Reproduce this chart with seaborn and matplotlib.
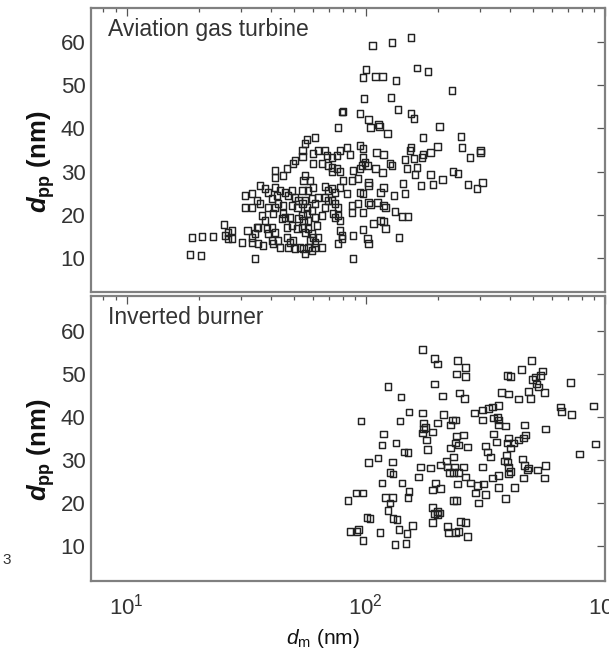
import matplotlib
matplotlib.use("Agg")
import matplotlib.pyplot as plt
import pandas as pd
import seaborn as sns
from matplotlib.ticker import LogLocator, FixedLocator, NullLocator

# Aviation gas turbine: mobility diameter d_m (nm) and primary particle diameter d_pp (nm)
turbine_dm = [
    18.8, 20.7, 18.4, 20.5, 23.0, 25.6, 25.8, 26.6, 26.6, 27.6, 27.6,
    79.4, 76.7, 61.4, 56.9, 55.8, 54.3, 54.3,
    60.2, 63.2, 67.6, 68.9, 72.4, 75.9, 78.1,
    60.2, 65.7, 69.5, 72.4, 75.9, 72.4, 78.1,
    50.7, 49.7, 46.8, 45.0, 41.7, 41.7,
    55.8, 54.8, 58.5, 60.2, 57.4, 54.3,
    67.6, 69.5, 72.4, 74.5, 78.1,
    36.1, 37.9, 39.0, 41.7, 43.8, 45.9, 47.3, 42.5, 40.5,
    31.2, 33.4, 35.1, 36.1, 31.2, 33.4,
    39.0, 41.7, 42.9, 45.0, 40.9, 45.0,
    49.2, 50.7, 52.2, 49.2, 51.7, 54.3, 55.8, 56.9, 59.7, 61.4, 59.7, 56.9, 54.3, 52.2, 54.8, 57.4,
    63.2, 67.6, 69.5, 67.6, 72.4, 74.5, 76.7, 73.1, 76.7, 74.5,
    61.4, 65.7, 62.6,
    36.8, 37.9, 35.4, 38.6, 40.5, 41.7,
    44.6, 45.9, 48.3, 46.8, 49.2, 51.7,
    54.3, 55.8, 57.4, 59.7,
    30.4, 32.1, 33.4, 35.1, 34.4, 33.4, 35.4, 37.2, 39.0, 40.5, 40.9, 42.9, 43.8,
    46.8, 48.3, 49.7, 47.3, 50.7, 53.2, 54.8, 55.8, 57.4, 58.5, 60.2, 61.4, 63.2, 65.7, 59.7, 61.4,
    34.4, 78.1, 76.7, 78.1,
    106.5, 128.5, 154.5, 100.0, 97.5, 109.6, 117.2, 133.6, 163.6, 182.0, 229.0, 98.4, 127.3, 136.2,
    80.4, 94.7, 154.5, 159.0, 102.5, 104.4, 112.8, 113.9, 123.0, 203.0, 173.4, 250.0, 83.5, 94.7,
    97.5, 86.0, 110.6, 118.3, 154.5, 153.0, 199.0, 253.0, 301.0, 301.0, 273.0, 173.4, 186.0, 171.7,
    145.7, 159.0, 97.5, 99.4, 96.5, 101.5, 126.0, 128.5, 109.6, 117.2, 148.5, 163.6, 160.5, 88.5,
    94.7, 186.0, 232.0, 243.0, 209.0, 80.4, 87.7, 92.9, 102.5, 102.5, 142.9, 170.0, 191.0, 268.0,
    292.0, 307.0, 118.3, 83.5, 94.7, 97.5, 115.0, 131.0, 145.7, 87.7, 92.9, 102.5, 104.4, 111.7,
    118.3, 120.6, 87.7, 97.5, 132.3, 141.5, 150.0, 115.0, 118.3, 107.5, 120.6, 97.5, 88.5, 79.6,
    79.6, 101.5, 102.5, 137.5, 88.5,
]
turbine_dpp = [
    14.7, 14.9, 10.7, 10.5, 14.9, 17.7, 15.1, 15.8, 14.4, 16.3, 14.4,
    43.8, 40.2, 37.9, 37.4, 36.5, 34.9, 33.5,
    34.2, 34.9, 34.9, 33.7, 33.3, 33.7, 34.9,
    31.9, 31.9, 31.4, 30.9, 30.7, 30.0, 30.0,
    32.6, 31.9, 30.7, 29.1, 30.2, 28.6,
    29.1, 27.9, 27.9, 26.3, 25.6, 25.6,
    26.5, 25.6, 26.0, 25.1, 26.3,
    26.7, 26.0, 25.1, 26.3, 25.6, 25.1, 24.4, 24.4, 23.7,
    24.4, 24.9, 23.3, 22.6, 21.6, 21.6,
    21.6, 21.6, 22.6, 22.1, 20.2, 20.2,
    25.6, 24.0, 23.3, 22.1, 21.6, 22.6, 23.3, 21.6, 23.7, 22.6, 20.9, 20.2, 19.8, 19.1, 18.6, 18.6,
    24.0, 24.0, 23.3, 21.6, 23.3, 22.6, 21.6, 20.2, 19.8, 19.3,
    19.3, 19.8, 17.4,
    19.8, 18.6, 17.0, 16.7, 17.0, 15.8,
    19.1, 19.3, 19.3, 17.0, 17.4, 16.7,
    17.0, 15.8, 16.7, 15.6,
    13.5, 16.3, 14.7, 17.0, 15.6, 13.5, 13.3, 12.8, 15.6, 14.0, 13.3, 14.0, 12.3,
    14.7, 13.5, 14.0, 12.3, 12.1, 12.3, 12.1, 10.9, 12.3, 14.0, 14.7, 13.5, 14.7, 12.3, 11.6, 12.3,
    9.8, 16.3, 13.3, 18.6,
    59.3, 60.0, 61.2, 53.7, 51.9, 52.1, 52.1, 51.2, 54.0, 53.3, 48.8, 47.0, 47.2, 44.4,
    44.0, 43.5, 43.5, 42.3, 42.1, 40.2, 40.9, 40.5, 38.8, 40.5, 37.9, 38.1, 35.6, 36.0,
    35.3, 34.0, 34.4, 34.0, 35.6, 34.9, 35.8, 35.6, 34.9, 34.4, 33.3, 34.0, 34.4, 33.3,
    32.8, 33.0, 33.3, 32.1, 31.4, 31.4, 31.9, 31.4, 30.7, 29.8, 30.7, 30.9, 29.3, 30.2,
    30.7, 29.3, 30.0, 29.5, 28.1, 27.9, 27.9, 28.4, 27.4, 26.7, 27.2, 26.7, 27.0, 27.0,
    26.0, 27.4, 26.3, 24.9, 25.1, 24.9, 25.1, 24.4, 24.9, 22.1, 22.6, 22.8, 22.3, 22.8,
    22.1, 21.6, 20.5, 20.5, 20.7, 19.5, 19.5, 18.6, 18.4, 17.9, 16.7, 16.5, 15.1, 15.1,
    14.4, 14.4, 13.3, 14.7, 9.8,
]

# Inverted burner
burner_dm = [
    173.0, 193.4, 199.1, 241.2, 260.6, 238.9, 260.6, 124.1, 193.4, 140.6, 208.8, 245.9, 258.1,
    151.8, 172.2, 95.7, 139.2, 173.9, 173.9, 177.3, 189.7, 199.1, 210.8, 225.5, 229.9, 236.6,
    118.3, 172.2, 179.0, 180.7, 117.1, 134.0, 144.7, 150.4, 238.9, 255.6, 225.5, 236.6, 243.6,
    102.4, 112.7, 129.0, 169.0, 186.1, 165.7, 126.5, 130.2,
    204.9, 217.0, 219.1, 232.1, 234.4, 223.4, 232.1, 243.6, 255.6, 260.6,
    142.0, 117.1, 195.3, 189.7, 204.9, 241.2, 91.2, 97.5, 84.4, 120.6, 129.0, 126.5,
    151.8, 150.4, 232.1, 238.9, 124.1, 130.2, 135.3, 101.4, 104.3,
    189.7, 199.1, 202.9, 193.4, 199.1, 189.7, 86.1, 92.1, 93.0, 114.9, 97.5,
    137.9, 148.9, 156.4, 147.5, 132.7, 219.1, 221.2, 236.6, 243.6, 265.7, 248.3, 260.6,
    492.3, 447.1, 547.2, 391.1, 402.0, 497.1, 511.6, 536.8, 516.6, 526.6, 716.7,
    368.7, 394.9, 434.3, 478.2, 487.6, 557.8, 284.3, 307.0, 325.3, 338.1, 358.1,
    307.0, 341.3, 354.7, 358.1, 358.1, 383.6, 650.9, 657.2, 723.6, 894.7, 460.2, 563.2,
    341.3, 351.3, 394.9, 391.1, 413.8, 434.3, 455.8, 464.7, 402.0, 316.0, 322.2, 331.6,
    265.7, 387.3, 379.9, 391.1, 912.1, 781.6, 451.4, 460.2, 478.2, 473.6, 521.6, 563.2,
    394.9, 402.0, 307.0, 338.1, 358.1, 394.9, 455.8, 557.8, 273.5, 292.6, 310.0,
    358.1, 417.8, 287.0, 316.0, 295.4, 383.6,
]
burner_dpp = [
    55.6, 53.5, 52.2, 53.1, 51.5, 49.9, 49.4, 47.1, 47.6, 44.6, 44.8, 45.5, 44.3,
    41.1, 40.9, 39.0, 39.0, 38.6, 37.2, 37.6, 36.5, 38.6, 40.6, 38.1, 39.3, 39.3,
    36.0, 36.3, 34.7, 32.4, 33.5, 34.0, 31.9, 31.7, 35.6, 35.8, 32.8, 34.0, 33.5,
    29.4, 30.5, 29.6, 28.4, 28.2, 26.1, 27.1, 26.8,
    28.9, 29.8, 28.4, 30.7, 28.4, 27.1, 27.1, 27.1, 28.4, 26.1,
    24.7, 24.7, 24.7, 23.1, 23.4, 24.5, 22.4, 22.4, 20.6, 21.3, 21.3, 20.1,
    22.7, 21.3, 20.6, 20.6, 18.3, 16.5, 16.2, 16.7, 16.5,
    19.0, 18.1, 17.8, 17.6, 17.4, 15.5, 13.5, 13.5, 13.9, 13.2, 11.4,
    13.9, 13.0, 14.8, 10.7, 10.5, 14.6, 13.2, 13.2, 13.5, 12.3, 15.8, 15.5,
    53.1, 51.0, 50.6, 49.6, 49.4, 48.7, 49.2, 49.6, 47.6, 46.9, 48.0,
    45.7, 45.3, 44.1, 45.9, 44.3, 45.7, 40.9, 41.6, 42.0, 42.3, 42.7,
    39.3, 39.7, 40.0, 39.3, 38.1, 37.9, 42.3, 41.3, 40.6, 42.5, 38.1, 37.2,
    36.0, 34.2, 35.1, 34.0, 34.0, 34.7, 35.1, 35.8, 32.8, 33.3, 31.9, 30.7,
    33.0, 31.2, 29.8, 29.6, 33.7, 31.4, 30.3, 28.7, 28.2, 27.7, 27.7, 28.7,
    28.4, 27.3, 28.4, 25.9, 26.4, 26.8, 25.9, 25.9, 24.7, 24.1, 24.5,
    23.6, 23.6, 22.4, 22.0, 20.1, 21.1,
]

panel_titles = ["Aviation gas turbine", "Inverted burner"]
y_ticks = [10, 20, 30, 40, 50, 60]

sns.set_theme(style="white")
plt.rcParams["font.family"] = ["Liberation Sans", "DejaVu Sans"]
plt.rcParams["mathtext.fontset"] = "custom"
plt.rcParams["mathtext.rm"] = "Liberation Sans"
plt.rcParams["mathtext.it"] = "Liberation Sans:italic"
plt.rcParams["mathtext.bf"] = "Liberation Sans:bold"
plt.rcParams["mathtext.bfit"] = "Liberation Sans:italic:bold"

fig = plt.figure(figsize=(6.09, 6.61), dpi=100)
left, width = 91 / 609, 514 / 609
ax_top = fig.add_axes([left, 1 - 292 / 661, width, 284 / 661])
ax_bot = fig.add_axes([left, 1 - 581 / 661, width, 285 / 661])

frames = [
    pd.DataFrame({"dm": turbine_dm, "dpp": turbine_dpp}),
    pd.DataFrame({"dm": burner_dm, "dpp": burner_dpp}),
]

text_col = "#333333"
for ax, df, title in zip([ax_top, ax_bot], frames, panel_titles):
    sns.scatterplot(data=df, x="dm", y="dpp", ax=ax, marker="s", s=22,
                    facecolor="none", edgecolor="#222222", linewidth=1.05,
                    legend=False)
    ax.set_xscale("log")
    ax.set_xlim(7.1, 1000)
    ax.set_ylim(2, 68)
    ax.yaxis.set_major_locator(FixedLocator(y_ticks))
    ax.yaxis.set_minor_locator(NullLocator())
    ax.xaxis.set_major_locator(LogLocator(base=10))
    ax.xaxis.set_minor_locator(LogLocator(base=10, subs=range(2, 10)))
    ax.tick_params(which="both", direction="in", top=True, right=True,
                   color="#555555", width=0.9, labelcolor=text_col,
                   labelsize=16)
    ax.tick_params(which="major", length=6)
    ax.tick_params(which="minor", length=3)
    ax.tick_params(axis="y", pad=4)
    ax.tick_params(axis="x", pad=9)
    for sp in ax.spines.values():
        sp.set_color("#808080")
        sp.set_linewidth(1.6)
    ax.text(0.033, 0.90, title, transform=ax.transAxes, ha="left",
            va="baseline", fontsize=16.5, color=text_col)
    ax.set_ylabel(r"$\mathbfit{d}_{\mathbf{pp}}$ (nm)", fontsize=18.5,
                  fontweight="bold", color="#111111")
    ax.yaxis.set_label_coords(-0.066, 0.46)

ax_top.tick_params(axis="x", labelbottom=False)
ax_top.set_xlabel("")
ax_bot.set_xlabel(r"$\mathit{d}_{\mathrm{m}}$ (nm)", fontsize=15, color="#111111")
ax_bot.xaxis.set_label_coords(0.451, -0.16)

# fragment of a neighbouring tick label at the left margin
fig.text(0.004, 1 - 560 / 661, "3", fontsize=11, color=text_col,
         ha="left", va="center")

fig.savefig("out.png", dpi=100)
